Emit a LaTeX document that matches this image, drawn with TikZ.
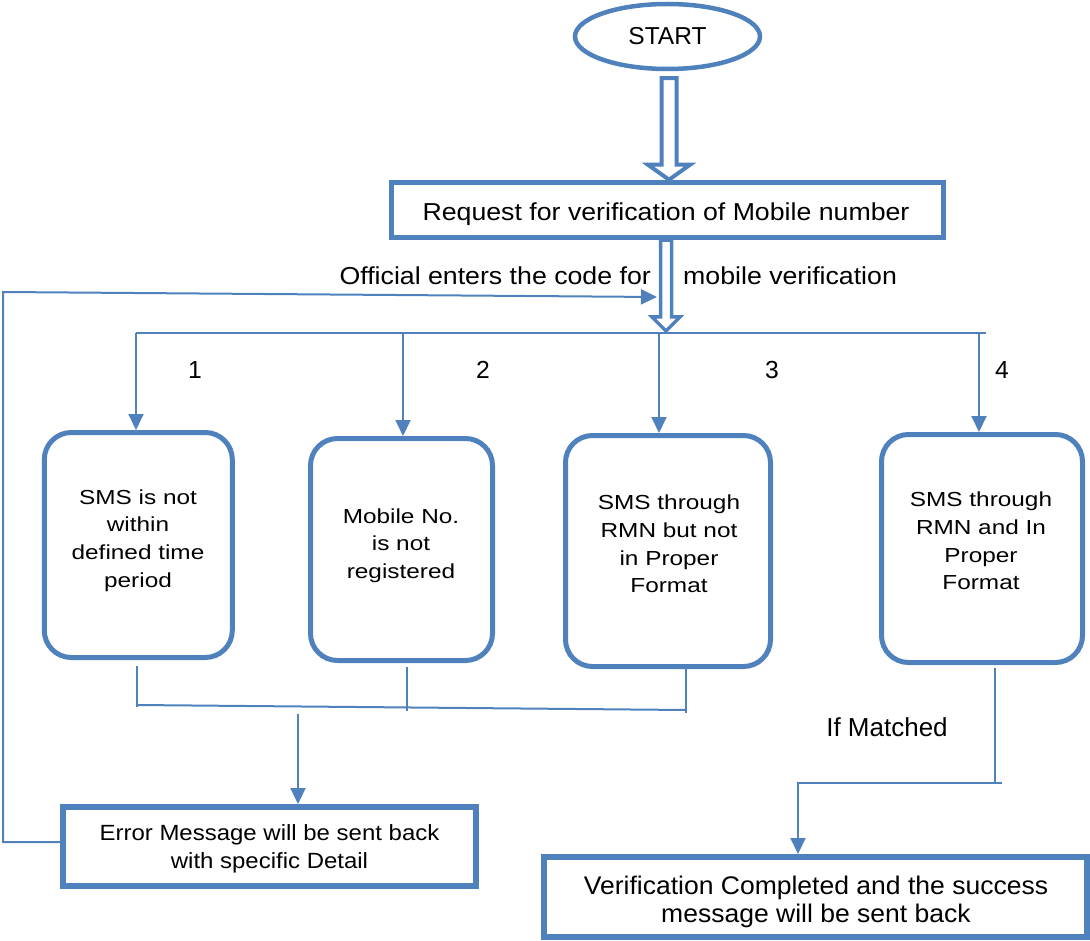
\documentclass[tikz,border=0pt]{standalone}
\usepackage{fontspec}
\setmainfont{Liberation Sans}
\newfontfamily\fA[FakeStretch=1.09]{Liberation Sans}
\newfontfamily\fB[FakeStretch=1.2]{Liberation Sans}
\newfontfamily\fC[FakeStretch=1.04]{Liberation Sans}
\usetikzlibrary{arrows.meta,shapes.geometric,calc}
\definecolor{ofblue}{HTML}{4F81BD}
\begin{document}
\begin{tikzpicture}[x=1pt,y=-1pt,
  thinline/.style={draw=ofblue,line width=2pt},
  arr/.style={thinline,-{Triangle[width=15pt,length=16pt]}},
  rbox/.style={draw=ofblue,line width=5pt,rounded corners=27pt,inner sep=0pt},
  sbox/.style={draw=ofblue,line width=5.5pt,inner sep=0pt},
  hollow/.style={draw=ofblue,fill=white},
  btext/.style={align=center,inner sep=0pt,font=\fB\fontsize{20.3}{27.6}\selectfont},
  lbl/.style={inner sep=0pt,font=\fontsize{24.7}{28}\selectfont},
  wtext/.style={inner sep=0pt,font=\fA\fontsize{24.5}{28}\selectfont},
]
\useasboundingbox (0,0) rectangle (1090,941);

% start and request
\node[ellipse,draw=ofblue,line width=4.5pt,minimum width=185pt,minimum height=65pt,inner sep=0pt,
      font=\fontsize{24.5}{28}\selectfont] (start) at (667.5,36.5) {START};
\node[sbox,minimum width=552pt,minimum height=55pt] (req) at (667.5,210) {};
\node[wtext] (reqt) at (666,214) {Request for verification of Mobile number};

% hollow arrow 1
\coordinate (a1s) at ($(start.south)+(1.5,7)$);
\coordinate (a1t) at ($(req.north)+(1.5,0)$);
\draw[hollow,line width=4pt] ($(a1s)+(-7.5,0)$) -- ($(a1s)+(7.5,0)$) -- ($(a1t)+(7.5,-15)$)
  -- ($(a1t)+(21,-15)$) -- (a1t) -- ($(a1t)+(-21,-15)$) -- ($(a1t)+(-7.5,-15)$) -- cycle;

% hollow arrow 2
\coordinate (a2s) at ($(req.south)+(-1.5,0)$);
\coordinate (a2t) at (666,331);
\draw[hollow,line width=3.5pt] ($(a2s)+(-5.5,0)$) -- ($(a2s)+(5.5,0)$) -- ($(a2t)+(5.5,-14)$)
  -- ($(a2t)+(14,-14)$) -- (a2t) -- ($(a2t)+(-14,-14)$) -- ($(a2t)+(-5.5,-14)$) -- cycle;

\node[wtext,anchor=east] (off) at (651,276) {Official enters the code for};
\node[wtext,anchor=west] (mob) at (683,276) {mobile verification};

% bus
\coordinate (bus1) at (136,333);
\coordinate (bus2) at (986,333);
\draw[thinline] (bus1) -- (bus2);
\coordinate (br2) at (403,333);
\coordinate (br3) at (659,333);
\coordinate (br4) at (979,333);

% boxes
\node[rbox,minimum width=188pt,minimum height=225pt] (box1) at (138.3,545) {};
\node[rbox,minimum width=182pt,minimum height=222pt] (box2) at (401.5,549.5) {};
\node[rbox,minimum width=205pt,minimum height=231pt] (box3) at (668,551) {};
\node[rbox,minimum width=201pt,minimum height=228pt] (box4) at (982,548.5) {};
\node[btext] (t1) at (138,540.5) {SMS is not\\within\\defined time\\period};
\node[btext] (t2) at (401,545.5) {Mobile No.\\is not\\registered};
\node[btext] (t3) at (669,544) {SMS through\\RMN but not\\in Proper\\Format};
\node[btext] (t4) at (981,541) {SMS through\\RMN and In\\Proper\\Format};

\draw[arr] (bus1) -- (bus1 |- box1.north);
\draw[arr] (br2) -- (br2 |- box2.north);
\draw[arr] (br3) -- (br3 |- box3.north);
\draw[arr] (br4) -- (br4 |- box4.north);

\node[lbl] (l1) at (195,370) {1};
\node[lbl] (l2) at (483,370) {2};
\node[lbl] (l3) at (772,370) {3};
\node[lbl] (l4) at (1002,370) {4};

% collectors to error box
\node[sbox,line width=6pt,minimum width=413pt,minimum height=79pt] (err) at (269.5,846.5) {};
\node[align=center,inner sep=0pt,font=\fA\fontsize{22}{27.6}\selectfont] (errt) at (269.5,848.8)
  {Error Message will be sent back\\with specific Detail};
\coordinate (e1) at (137,707);
\coordinate (e2) at (406.5,711);
\coordinate (e3) at (685.5,713);
\coordinate (hL) at (137,705);
\coordinate (hR) at (686,710);
\draw[thinline] ([yshift=-6pt]box1.south -| e1) -- (e1);
\draw[thinline] ([yshift=-4pt]box2.south -| e2) -- (e2);
\draw[thinline] ([yshift=2pt]box3.south -| e3) -- (e3);
\draw[thinline] (hL) -- (hR);
\coordinate (ea) at (298,714);
\draw[arr] (ea) -- (ea |- err.north);

% feedback loop
\coordinate (fbc) at (3,292);
\coordinate (fbe) at (657,297);
\draw[arr] ([yshift=4.5pt]err.west) -| (fbc) -- (fbe);

% success path
\node[sbox,line width=6pt,minimum width=543pt,minimum height=80pt] (succ) at (815.5,897) {};
\node[align=center,inner sep=0pt,font=\fC\fontsize{25.5}{28}\selectfont] (succt) at (816,902)
  {Verification Completed and the success\\message will be sent back};
\coordinate (m1) at (995,668);
\coordinate (m2) at (995,783);
\coordinate (m3) at (798,783);
\draw[thinline] (m2) -- ++(7,0);
\draw[arr] (m1) -- (m2) -- (m3) -- (m3 |- succ.north);
\node[inner sep=0pt,font=\fontsize{26}{28}\selectfont] (im) at (887,727) {If Matched};
\end{tikzpicture}
\end{document}
